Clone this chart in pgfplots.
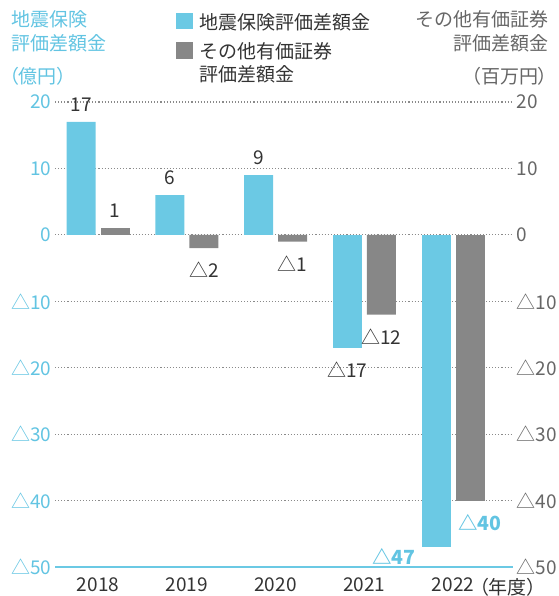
\documentclass[border=0pt]{standalone}
\usepackage{fontspec}
\setmainfont{Noto Sans CJK JP}
\newfontfamily\palt{Noto Sans CJK JP}[RawFeature=+palt]
\usepackage{pgfplots}
\pgfplotsset{compat=1.18}
\definecolor{cblue}{HTML}{6BC9E4}
\definecolor{cbluetxt}{HTML}{62C4E2}
\definecolor{cgray}{HTML}{878787}
\definecolor{cgraytxt}{HTML}{666666}
\definecolor{ctext}{HTML}{333333}
\definecolor{cgrid}{HTML}{8A8A8A}
\begin{document}
\begin{tikzpicture}[font=\fontsize{19pt}{23pt}\selectfont]
\path[use as bounding box] (0,0) rectangle (558pt,-596pt);
\begin{axis}[
  at={(55pt,-567pt)}, anchor=south west,
  scale only axis, width=458pt, height=465pt,
  xmin=-0.485, xmax=4.676, ymin=-50, ymax=20,
  axis line style={draw=none},
  major tick length=0pt,
  ytick={-50,-40,...,20},
  yticklabels={△50,△40,△30,△20,△10,0,10,20},
  yticklabel style={text=cbluetxt},
  ymajorgrids,
  grid style={cgrid, line width=1.1pt, dash pattern=on 1.1pt off 2pt},
  extra y ticks={-50},
  extra y tick labels={},
  extra y tick style={grid style={cblue, solid, line width=1.2pt}},
  xtick={0,1,2,3,4},
  xticklabels={2018,2019,2020,2021,2022},
  xticklabel style={text=ctext, yshift=-7pt},
  ybar, bar width=29pt,
  legend style={at={(axis description cs:0.264,1.196)}, anchor=north west, draw=none, fill=none,
    row sep=8pt, inner sep=0pt, nodes={text=ctext, align=left, inner ysep=2pt, inner xsep=7pt}},
  legend cell align=left,
]
\addlegendimage{legend image code/.code={\fill[cblue] (0pt,-6.5pt) rectangle (16pt,9pt);}}
\addlegendentry{地震保険評価差額金}
\addlegendimage{legend image code/.code={\fill[cgray] (0pt,5pt) rectangle (16pt,21pt);}}
\addlegendentry{その他有価証券\\評価差額金}
% blue positive
\addplot[fill=cblue, draw=none, bar shift=-17pt, point meta=explicit symbolic, nodes near coords,
  every node near coord/.append style={anchor=center, yshift=17pt, text=ctext}, forget plot]
  coordinates {(0,17) [17] (1,6) [6] (2,9) [9]};
% blue negative
\addplot[fill=cblue, draw=none, bar shift=-17pt, point meta=explicit symbolic, nodes near coords,
  every node near coord/.append style={anchor=center, yshift=-22pt, text=ctext}, forget plot]
  coordinates {(3,-17) [△17]};
% blue 2022
\addplot[fill=cblue, draw=none, bar shift=-17pt, point meta=explicit symbolic, nodes near coords,
  every node near coord/.append style={anchor=east, xshift=-17pt, yshift=-9pt, text=cbluetxt, font=\fontsize{19.5pt}{23pt}\selectfont\bfseries}, forget plot]
  coordinates {(4,-47) [△47]};
% gray positive
\addplot[fill=cgray, draw=none, bar shift=17pt, point meta=explicit symbolic, nodes near coords,
  every node near coord/.append style={anchor=center, yshift=17pt, text=ctext}, forget plot]
  coordinates {(0,1) [1]};
% gray negative
\addplot[fill=cgray, draw=none, bar shift=17pt, point meta=explicit symbolic, nodes near coords,
  every node near coord/.append style={anchor=center, yshift=-22pt, text=ctext}, forget plot]
  coordinates {(1,-2) [△2] (2,-1) [△1] (3,-12) [△12]};
% gray 2022
\addplot[fill=cgray, draw=none, bar shift=17pt, point meta=explicit symbolic, nodes near coords,
  every node near coord/.append style={anchor=center, xshift=10pt, yshift=-22pt, text=cbluetxt, font=\fontsize{19.5pt}{23pt}\selectfont\bfseries}, forget plot]
  coordinates {(4,-40) [△40]};
\end{axis}
\begin{axis}[
  at={(55pt,-567pt)}, anchor=south west,
  scale only axis, width=458pt, height=465pt,
  xmin=-0.485, xmax=4.676, ymin=-50, ymax=20,
  hide x axis,
  axis line style={draw=none},
  major tick length=0pt,
  yticklabel pos=right,
  ytick={-50,-40,...,20},
  yticklabels={△50,△40,△30,△20,△10,0,10,20},
  yticklabel style={text=cgraytxt},
]
\end{axis}
% titles
\node[anchor=base west, text=cbluetxt, inner sep=0pt] at (11pt,-27pt) {地震保険};
\node[anchor=base west, text=cbluetxt, inner sep=0pt] at (11pt,-51pt) {評価差額金};
\node[anchor=base west, text=cbluetxt, inner sep=0pt] at (9pt,-84pt) {\palt （億円）};
\node[anchor=base east, text=cgraytxt, inner sep=0pt] at (549pt,-27pt) {その他有価証券};
\node[anchor=base east, text=cgraytxt, inner sep=0pt] at (549pt,-51pt) {評価差額金};
\node[anchor=base east, text=cgraytxt, inner sep=0pt] at (548pt,-84pt) {\palt （百万円）};
\node[anchor=base west, text=ctext, inner sep=0pt] at (479pt,-594pt) {\palt （年度）};
\end{tikzpicture}
\end{document}
